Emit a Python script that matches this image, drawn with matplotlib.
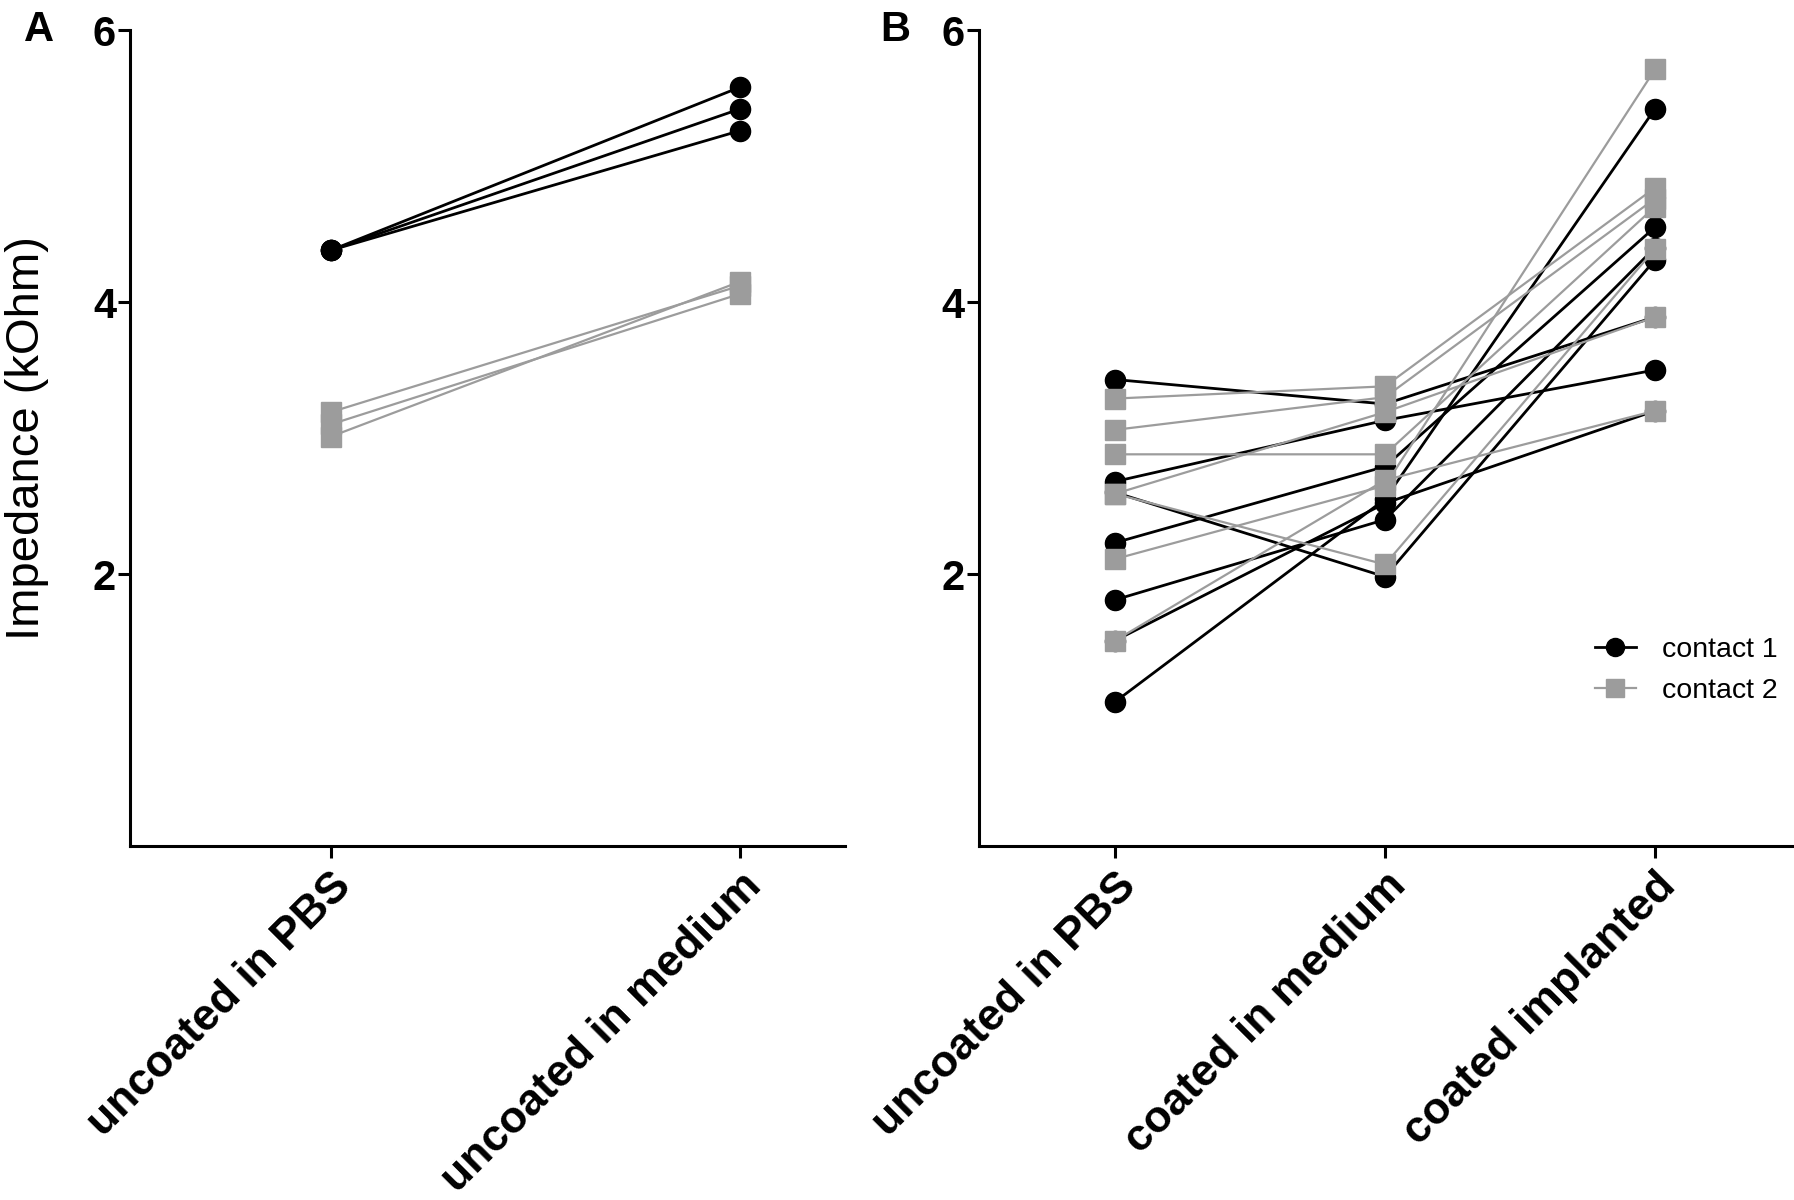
import numpy as np
import matplotlib
matplotlib.use("Agg")
import matplotlib.pyplot as plt

plt.rcParams['font.family'] = ['Liberation Sans', 'DejaVu Sans']

# panel A
labels_a = ['uncoated in PBS', 'uncoated in medium']
a_contact1 = [[4.38, 5.58], [4.38, 5.42], [4.38, 5.26]]
a_contact2 = [[3.19, 4.12], [3.10, 4.06], [3.01, 4.15]]

# panel B
labels_b = ['uncoated in PBS', 'coated in medium', 'coated implanted']
b_contact1 = [
    [3.43, 3.25, 3.89],
    [2.68, 3.13, 3.50],
    [2.60, 1.98, 4.31],
    [2.23, 2.79, 4.55],
    [1.81, 2.40, 4.40],
    [1.51, 2.52, 3.20],
    [1.06, 2.55, 5.42],
]
b_contact2 = [
    [3.29, 3.38, 4.84],
    [3.06, 3.30, 4.76],
    [2.88, 2.88, 4.70],
    [2.59, 3.19, 3.89],
    [2.59, 2.07, 4.39],
    [2.11, 2.65, 5.71],
    [1.51, 2.69, 3.20],
]

yticks = [2, 4, 6]

black = '#000000'
grey = '#9c9c9c'

fig = plt.figure(figsize=(17.94, 12), dpi=100)
axA = fig.add_axes([0.0725, 0.295, 0.3985, 0.68])
axB = fig.add_axes([0.5457, 0.295, 0.4543, 0.68])


def draw(ax, c1, c2, labels):
    x = np.arange(len(labels))
    for row in c1:
        ax.plot(x, row, color=black, lw=2.0, marker='o', ms=14.5,
                mfc=black, mec=black, zorder=3, clip_on=False)
    for row in c2:
        ax.plot(x, row, color=grey, lw=1.6, marker='s', ms=14,
                mfc=grey, mec=grey, zorder=4, clip_on=False)
    ax.set_ylim(0, 6)
    ax.set_yticks(yticks)
    ax.set_yticklabels([str(t) for t in yticks], fontsize=30, fontweight='bold')
    ax.set_xticks(x)
    ax.set_xticklabels(labels, rotation=45, ha='right', rotation_mode='anchor',
                       fontsize=32, fontweight='bold')
    for s in ['top', 'right']:
        ax.spines[s].set_visible(False)
    for s in ['left', 'bottom']:
        ax.spines[s].set_linewidth(2.2)
    ax.tick_params(axis='y', direction='out', length=8.6, width=2.2, pad=1.5)
    ax.tick_params(axis='x', direction='out', length=8.6, width=2.2, pad=5)


draw(axA, a_contact1, a_contact2, labels_a)
axA.set_xlim(-0.49, 1.256)
axA.set_ylabel('Impedance (kOhm)', fontsize=34)
axA.yaxis.set_label_coords(-0.113, 0.5)

draw(axB, b_contact1, b_contact2, labels_b)
axB.set_xlim(-0.504, 2.515)

h1 = plt.Line2D([], [], color=black, lw=2.0, marker='o', ms=13, mfc=black, mec=black)
h2 = plt.Line2D([], [], color=grey, lw=1.6, marker='s', ms=13, mfc=grey, mec=grey)
axB.legend([h1, h2], ['contact 1', 'contact 2'], frameon=False, fontsize=20.5,
           loc='center left', bbox_to_anchor=(0.724, 0.215), handlelength=1.45,
           handletextpad=0.9, labelspacing=0.55)

fig.text(0.022, 0.975, 'A', fontsize=30, fontweight='bold', va='center', ha='center')
fig.text(0.499, 0.975, 'B', fontsize=30, fontweight='bold', va='center', ha='center')

fig.savefig('out.png', dpi=100)
